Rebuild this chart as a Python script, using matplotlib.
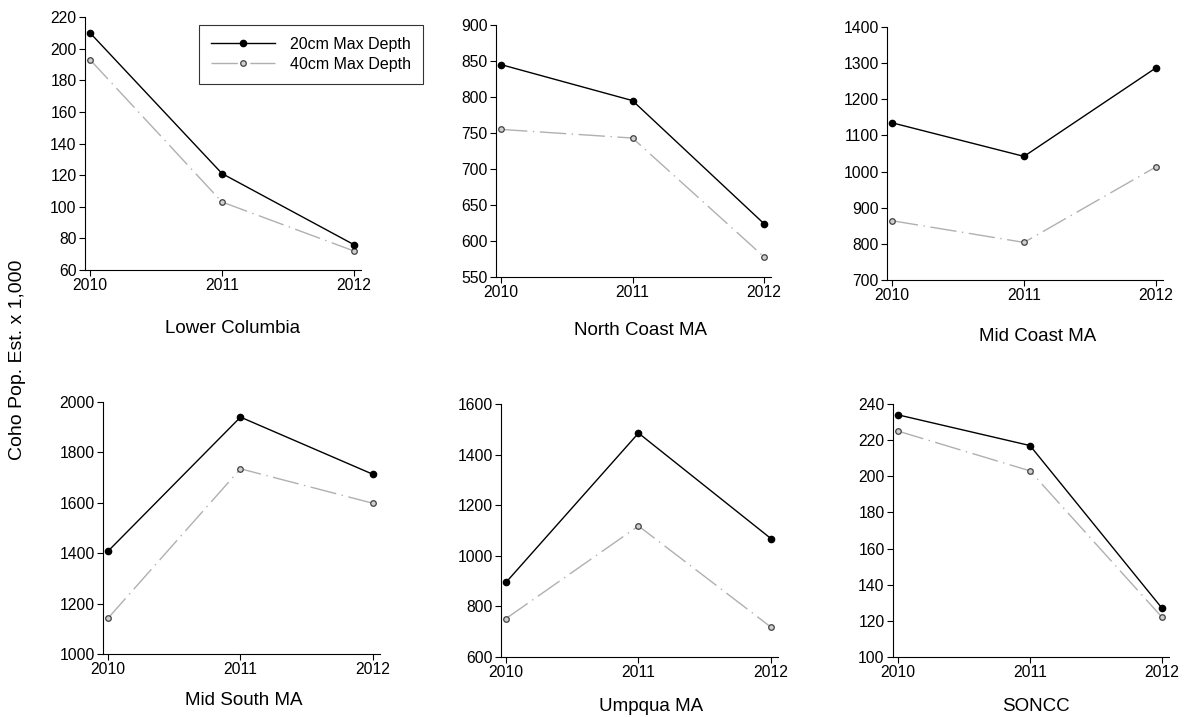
import numpy as np
import matplotlib.pyplot as plt

plt.rcParams['font.family'] = ['Liberation Sans', 'DejaVu Sans']

# data
years = [2010, 2011, 2012]
regions = ['Lower Columbia', 'North Coast MA', 'Mid Coast MA',
           'Mid South MA', 'Umpqua MA', 'SONCC']
depth20 = [[210, 121, 76], [845, 795, 624], [1135, 1042, 1287],
           [1408, 1940, 1713], [895, 1485, 1068], [234, 217, 127]]
depth40 = [[193, 103, 72], [755, 743, 578], [864, 804, 1013],
           [1142, 1735, 1598], [752, 1118, 718], [225, 203, 122]]
ylims = [(60, 220), (550, 900), (700, 1400), (1000, 2000), (600, 1600), (100, 240)]
ysteps = [20, 50, 100, 200, 200, 20]

W, H = 1186, 717
fig = plt.figure(figsize=(W / 100, H / 100), dpi=100)

# axes boxes in pixels: left, right, top, bottom
boxes = [(85, 361, 17, 270), (496, 771, 25, 277), (887, 1163, 27, 280),
         (103, 380, 402, 654), (501, 778, 404, 657), (893, 1169, 404, 657)]
# x-label centre (px) and gap below axis to label top (px)
label_pos = [(233, 50), (641, 45), (1038, 48), (244, 38), (651, 41), (1036, 41)]

for i, (l, r, t, b) in enumerate(boxes):
    ax = fig.add_axes([l / W, 1 - b / H, (r - l) / W, (b - t) / H])
    ax.plot(years, depth20[i], color='black', lw=1, marker='o', ms=4.5,
            mfc='black', mec='black', label='20cm Max Depth', zorder=3)
    ax.plot(years, depth40[i], color='#b0b0b0', lw=1, ls=(0, (19, 4, 1, 4)),
            marker='o', ms=4, mfc='#d0d0d0', mec='#404040', mew=0.9,
            label='40cm Max Depth', zorder=2)
    ax.set_xlim(2010 - 5 / 132, 2012 + 7 / 132)
    lo, hi = ylims[i]
    ax.set_ylim(lo, hi)
    ax.set_yticks(np.arange(lo, hi + 1, ysteps[i]))
    ax.set_xticks(years)
    ax.spines['top'].set_visible(False)
    ax.spines['right'].set_visible(False)
    ax.tick_params(direction='out', length=4, width=0.8, labelsize=11.3, pad=2)
    ax.set_xlabel(regions[i], fontsize=13.5)
    cx, gap = label_pos[i]
    ax.xaxis.set_label_coords((cx - l) / (r - l), -gap / (b - t))
    if i == 0:
        ax.legend(loc='upper left', bbox_to_anchor=(199 / W, 1 - 25 / H),
                  bbox_transform=fig.transFigure, fontsize=11.5, frameon=True,
                  fancybox=False, edgecolor='black', handlelength=4.0,
                  borderpad=0.75, labelspacing=0.3, handletextpad=0.95,
                  borderaxespad=0)
        ax.get_legend().get_frame().set_linewidth(0.8)

fig.text(0.015, 0.498, 'Coho Pop. Est. x 1,000', rotation=90,
         va='center', ha='center', fontsize=14)

fig.savefig('out.png', dpi=100)
